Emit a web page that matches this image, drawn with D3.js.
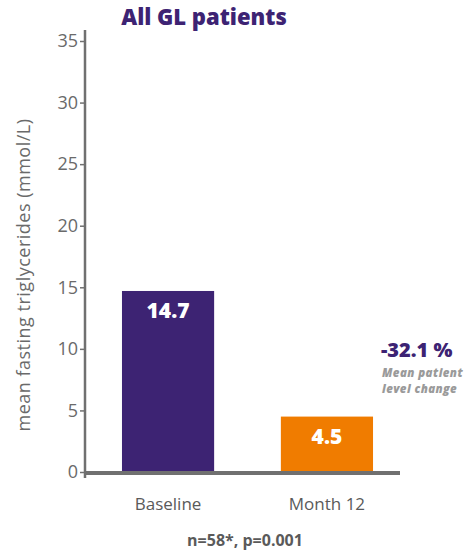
<!DOCTYPE html>
<html>
<head>
<meta charset="utf-8">
<script src="https://cdn.jsdelivr.net/npm/d3@7"></script>
<style>
  html, body { margin: 0; padding: 0; background: #ffffff; }
  svg { display: block; }
  text { font-family: "Open Sans", "Lato", sans-serif; }
</style>
</head>
<body>
<svg id="chart" width="474" height="554"></svg>
<script>
// Mean fasting triglycerides, all GL patients
const categories = ["Baseline", "Month 12"];
const values = [14.7, 4.5];
const barColors = ["#3d2373", "#f07c00"];
const yTicks = [0, 5, 10, 15, 20, 25, 30, 35];
const changeLabel = "-32.1 %";
const changeNote = ["Mean patient", "level change"];
const footnote = "n=58*, p=0.001";

const svg = d3.select("#chart");
const purple = "#3d2373";
const axisGray = "#707070";
const textGray = "#6a6a6a";

const y = d3.scaleLinear().domain([0, 35]).range([472, 41]);
const x = d3.scaleBand().domain(categories).range([101, 394]).paddingInner(0.42).paddingOuter(0.132);

// Title
svg.append("text")
  .attr("x", 204).attr("y", 25)
  .attr("text-anchor", "middle")
  .attr("font-size", 22).attr("font-weight", 800)
  .attr("fill", purple)
  .text("All GL patients");

// Bars
svg.selectAll("rect.bar")
  .data(values)
  .join("rect")
  .attr("class", "bar")
  .attr("x", (d, i) => x(categories[i]))
  .attr("width", x.bandwidth())
  .attr("y", d => y(d))
  .attr("height", d => y(0) - y(d))
  .attr("fill", (d, i) => barColors[i]);

// Value labels inside the bars
svg.selectAll("text.val")
  .data(values)
  .join("text")
  .attr("class", "val")
  .attr("x", (d, i) => x(categories[i]) + x.bandwidth() / 2)
  .attr("y", d => y(d) + 27)
  .attr("text-anchor", "middle")
  .attr("font-size", 21).attr("font-weight", 800)
  .attr("fill", "#ffffff")
  .text(d => d.toFixed(1));

// Y axis
const yAxis = svg.append("g")
  .attr("transform", "translate(85,0)")
  .call(d3.axisLeft(y).tickValues(yTicks).tickSize(5).tickPadding(2));
yAxis.select(".domain").remove();
yAxis.selectAll(".tick line").attr("stroke", axisGray).attr("stroke-width", 1.5);
yAxis.selectAll(".tick text")
  .attr("font-size", 18).attr("fill", textGray)
  .attr("font-family", "'Open Sans', Lato, sans-serif");

svg.append("line")
  .attr("x1", 85).attr("x2", 85)
  .attr("y1", 30).attr("y2", 478)
  .attr("stroke", axisGray).attr("stroke-width", 2.5);

// Baseline (x axis)
svg.append("line")
  .attr("x1", 85).attr("x2", 400)
  .attr("y1", y(0) + 1).attr("y2", y(0) + 1)
  .attr("stroke", axisGray).attr("stroke-width", 4);

// Category labels
svg.selectAll("text.cat")
  .data(categories)
  .join("text")
  .attr("class", "cat")
  .attr("x", d => x(d) + x.bandwidth() / 2)
  .attr("y", 510)
  .attr("text-anchor", "middle")
  .attr("font-size", 17).attr("fill", "#5a5a5a")
  .text(d => d);

// Y axis title
svg.append("text")
  .attr("transform", "translate(30,275) rotate(-90)")
  .attr("text-anchor", "middle")
  .attr("font-size", 18).attr("fill", textGray)
  .attr("letter-spacing", 0.5)
  .text("mean fasting triglycerides (mmol/L)");

// Change annotation
svg.append("text")
  .attr("x", 381).attr("y", 357)
  .attr("font-size", 20).attr("font-weight", 800)
  .attr("fill", purple)
  .text(changeLabel);

svg.selectAll("text.note")
  .data(changeNote)
  .join("text")
  .attr("class", "note")
  .attr("x", 382).attr("y", (d, i) => 377 + i * 16)
  .attr("font-size", 11.5).attr("font-weight", 800).attr("font-style", "italic")
  .attr("letter-spacing", 0.4)
  .attr("fill", "#9a9a9a")
  .text(d => d);

// Footnote
svg.append("text")
  .attr("x", 245).attr("y", 546)
  .attr("text-anchor", "middle")
  .attr("font-size", 16).attr("font-weight", 700)
  .attr("fill", "#5a5a5a")
  .text(footnote);
</script>
</body>
</html>
